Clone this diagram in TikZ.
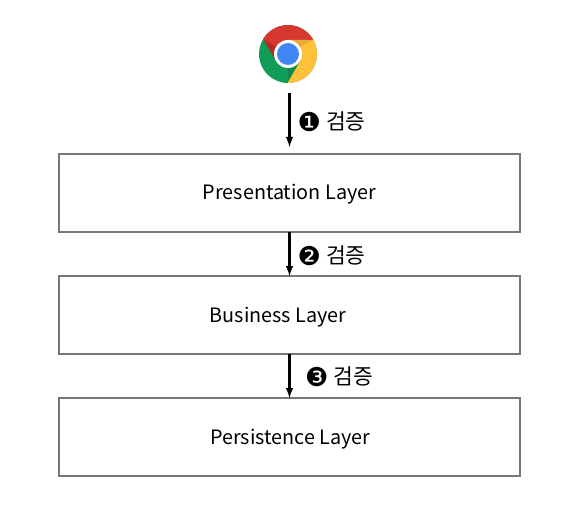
\documentclass[tikz,border=0pt]{standalone}
\usepackage{fontspec}
\setmainfont{Noto Sans CJK KR}
\newfontfamily\numfont{DejaVu Sans}
\definecolor{boxgray}{HTML}{777777}
\definecolor{chromered}{HTML}{D6382F}
\definecolor{chromegreen}{HTML}{0F9D58}
\definecolor{chromeyellow}{HTML}{FFC13A}
\definecolor{chromeblue}{HTML}{4285F4}
\newcommand{\nummark}[1]{{\numfont\fontsize{26}{26}\selectfont\raisebox{-1.8pt}{#1}}\hspace{5pt}}
\begin{document}
\begin{tikzpicture}[x=1pt,y=-1pt]
    \tikzset{% styles for layers and arrows
    layer/.style={draw=boxgray,line width=1.6pt,minimum width=461pt,minimum height=78pt,outer sep=0pt,inner sep=0pt,text height=19pt,text depth=5pt,font=\fontsize{19.8}{22}\selectfont},
    flow/.style={-latex,black,line width=2.4pt},
    check/.style={anchor=west,inner sep=0pt,font=\fontsize{21.5}{24}\selectfont},
    }
    \useasboundingbox (0,0) rectangle (578,513);

    % Browser icon
    \begin{scope}[shift={(288,54)},y=1pt]
    \fill[chromegreen] (0,0) circle[radius=29pt];
    \fill[chromered] (29:29pt) arc[start angle=29,end angle=149,radius=29pt] -- (210:14pt) -- (90:14pt) -- cycle;
    \fill[chromeyellow] (29:29pt) arc[start angle=29,end angle=-91,radius=29pt] -- (-30:14pt) -- (90:14pt) -- cycle;
    \fill[black,opacity=.18] (149:29pt) -- (210:14pt) -- (150:14pt) -- cycle;
    \fill[black,opacity=.10] (29:29pt) -- (90:14pt) -- (30:14pt) -- cycle;
    \fill[black,opacity=.12] (-91:29pt) -- (-30:14pt) -- (-90:14pt) -- cycle;
    \fill[white] (0,0) circle[radius=14pt];
    \fill[chromeblue] (0,0) circle[radius=11pt];
    \end{scope}
    \coordinate (top) at (289.5,93);
    \coordinate (tip) at (289.5,147);

    % Layers
    \node[layer] (n1) at (289.5,193) {Presentation Layer};
    \node[layer] (n2) at (289.5,315) {Business Layer\hspace*{23pt}};
    \node[layer] (n3) at (289.5,437) {\hspace*{1.5pt}Persistence Layer};

    % Arrows
    \draw[flow] (top) -- (tip);
    \draw[flow] (n1.south) -- (n2.north);
    \draw[flow] (n2.south) -- (n3.north);

    % Labels
    \node[check] (l1) at (297.5,122) {\nummark{❶}검증};
    \node[check] (l2) at (297.5,255.5) {\nummark{❷}검증};
    \node[check] (l3) at (305,377) {\nummark{❸}검증};
\end{tikzpicture}
\end{document}
